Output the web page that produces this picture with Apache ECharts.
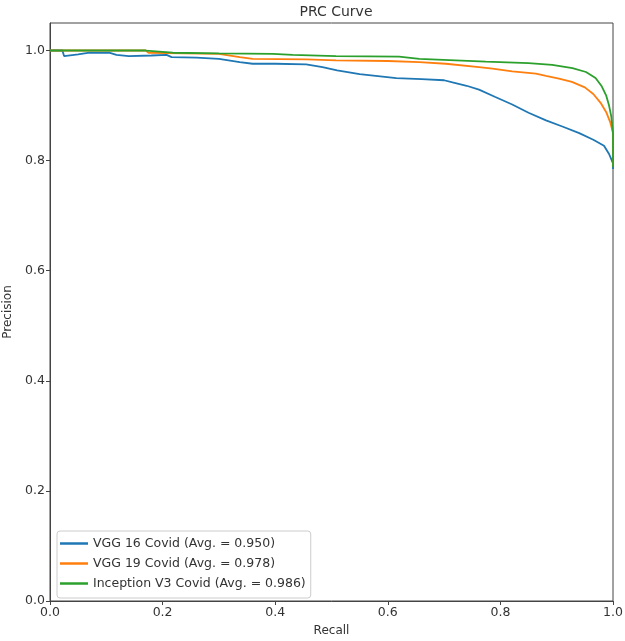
<!DOCTYPE html>
<html>
<head>
<meta charset="utf-8">
<script src="https://cdn.jsdelivr.net/npm/echarts@6/dist/echarts.min.js"></script>
<style>
html,body{margin:0;padding:0;background:#fff;}
#chart{width:625px;height:641px;}
</style>
</head>
<body>
<div id="chart"></div>
<script>
const seriesNames = ["VGG 16 Covid (Avg. = 0.950)", "VGG 19 Covid (Avg. = 0.978)", "Inception V3 Covid (Avg. = 0.986)"];
const xTicks = [0, 0.2, 0.4, 0.6, 0.8, 1.0];
const yTicks = [0, 0.2, 0.4, 0.6, 0.8, 1.0];

const vgg16Recall = [0, 0.022, 0.025, 0.05, 0.07, 0.105, 0.118, 0.14, 0.18, 0.207, 0.216, 0.26, 0.30, 0.337, 0.36, 0.40, 0.455, 0.484, 0.51, 0.55, 0.615, 0.66, 0.70, 0.715, 0.74, 0.762, 0.79, 0.821, 0.85, 0.881, 0.91, 0.94, 0.965, 0.984, 0.993, 0.998, 1.0, 1.0];
const vgg16Precision = [1.0, 1.0, 0.990, 0.993, 0.996, 0.996, 0.992, 0.990, 0.991, 0.992, 0.988, 0.987, 0.985, 0.979, 0.976, 0.976, 0.975, 0.970, 0.964, 0.957, 0.950, 0.948, 0.946, 0.942, 0.936, 0.929, 0.916, 0.902, 0.887, 0.873, 0.862, 0.850, 0.838, 0.827, 0.812, 0.800, 0.795, 0.785];

const vgg19Recall = [0, 0.170, 0.175, 0.30, 0.337, 0.36, 0.455, 0.508, 0.60, 0.656, 0.703, 0.762, 0.786, 0.821, 0.863, 0.881, 0.904, 0.927, 0.95, 0.965, 0.978, 0.988, 0.995, 1.0, 1.0];
const vgg19Precision = [1.0, 1.0, 0.996, 0.994, 0.988, 0.985, 0.984, 0.982, 0.981, 0.979, 0.976, 0.970, 0.967, 0.962, 0.958, 0.954, 0.949, 0.943, 0.933, 0.921, 0.905, 0.888, 0.870, 0.850, 0.790];

const incV3Recall = [0, 0.170, 0.218, 0.30, 0.396, 0.431, 0.508, 0.62, 0.656, 0.774, 0.85, 0.892, 0.928, 0.952, 0.969, 0.98, 0.988, 0.993, 0.997, 1.0, 1.0];
const incV3Precision = [1.0, 1.0, 0.996, 0.995, 0.994, 0.992, 0.990, 0.989, 0.985, 0.980, 0.977, 0.974, 0.968, 0.961, 0.950, 0.935, 0.918, 0.900, 0.880, 0.850, 0.788];

const colors = ["#1f77b4", "#ff7f0e", "#2ca02c"];

function pairs(r, p) { return r.map((v, i) => [v, p[i]]); }

const chart = echarts.init(document.getElementById('chart'), null, {renderer: 'canvas'});
const font = "DejaVu Sans";
const axisColor = '#444';
const textColor = '#333';

chart.setOption({
  animation: false,
  backgroundColor: '#fff',
  title: {
    text: 'PRC Curve',
    left: 331,
    textAlign: 'center',
    top: 0,
    textStyle: {fontFamily: font, fontSize: 14, fontWeight: 'normal', color: textColor}
  },
  grid: {left: 50, right: 12, top: 23, bottom: 40, show: true, borderColor: axisColor, borderWidth: 1, containLabel: false, outerBoundsMode: 'none'},
  legend: {
    data: seriesNames,
    orient: 'vertical',
    left: 57,
    top: 531,
    icon: 'rect',
    itemWidth: 28,
    itemHeight: 2.5,
    itemGap: 7,
    padding: [6, 5, 8, 3],
    borderColor: '#ccc',
    borderWidth: 1,
    borderRadius: 3,
    backgroundColor: '#fff',
    textStyle: {fontFamily: font, fontSize: 12.5, color: textColor}
  },
  xAxis: {
    type: 'value', min: 0, max: 1, interval: 0.2,
    name: 'Recall', nameLocation: 'middle', nameGap: 24,
    nameTextStyle: {fontFamily: font, fontSize: 12, color: textColor},
    axisLine: {show: true, lineStyle: {color: axisColor}},
    axisTick: {show: true, length: 4, lineStyle: {color: axisColor}},
    axisLabel: {fontFamily: font, fontSize: 12.5, color: textColor, margin: 5, formatter: v => v.toFixed(1)},
    splitLine: {show: false}
  },
  yAxis: {
    type: 'value', min: 0, max: 1.05, interval: 0.2,
    name: 'Precision', nameLocation: 'middle', nameGap: 32, nameRotate: 90,
    nameTextStyle: {fontFamily: font, fontSize: 12, color: textColor},
    axisLine: {show: true, lineStyle: {color: axisColor}},
    axisTick: {show: true, length: 4, lineStyle: {color: axisColor}, customValues: yTicks},
    axisLabel: {fontFamily: font, fontSize: 12.5, color: textColor, margin: 5, customValues: yTicks, formatter: v => v.toFixed(1)},
    splitLine: {show: false}
  },
  series: [
    {name: seriesNames[0], type: 'line', data: pairs(vgg16Recall, vgg16Precision), showSymbol: false, symbol: 'none', color: colors[0], lineStyle: {width: 1.8, color: colors[0]}},
    {name: seriesNames[1], type: 'line', data: pairs(vgg19Recall, vgg19Precision), showSymbol: false, symbol: 'none', color: colors[1], lineStyle: {width: 1.8, color: colors[1]}},
    {name: seriesNames[2], type: 'line', data: pairs(incV3Recall, incV3Precision), showSymbol: false, symbol: 'none', color: colors[2], lineStyle: {width: 1.8, color: colors[2]}}
  ]
});
</script>
</body>
</html>
